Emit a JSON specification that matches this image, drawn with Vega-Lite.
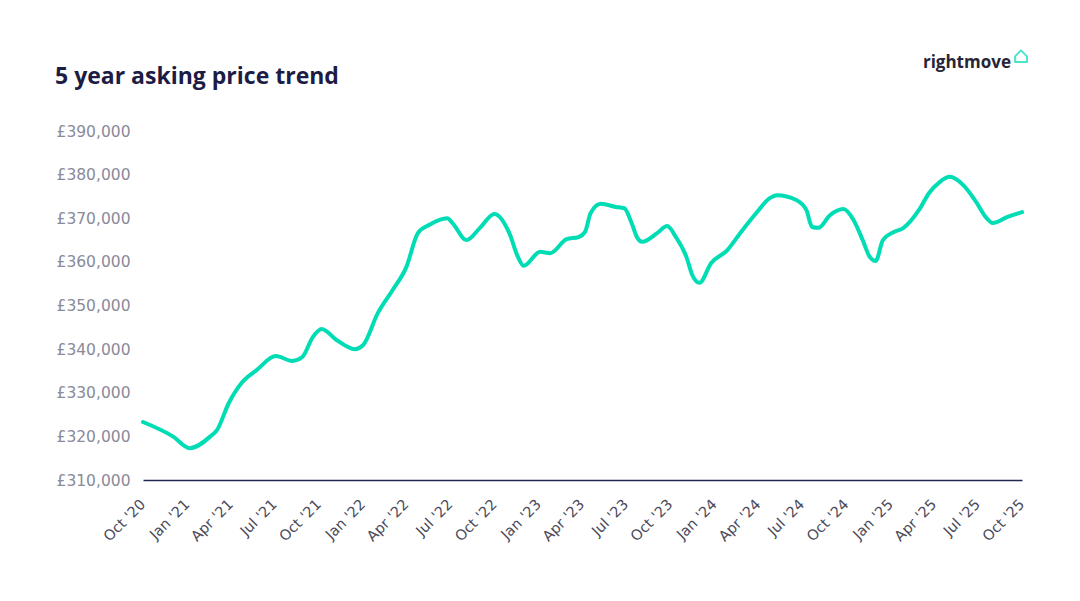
{
  "$schema": "https://vega.github.io/schema/vega-lite/v6.json",
  "autosize": {"type": "none"},
  "width": 879,
  "height": 349,
  "padding": {"left": 143, "top": 131, "right": 58, "bottom": 121},
  "background": "white",
  "title": {
    "text": "5 year asking price trend",
    "anchor": "start",
    "frame": "group",
    "dx": -88,
    "dy": 80,
    "offset": 40,
    "font": "Open Sans",
    "fontSize": 23,
    "fontWeight": "bold",
    "color": "#1c1c45"
  },
  "config": {"view": {"stroke": null}},
  "datasets": {
    "prices": [
      {"date": "2020-10-01", "price": 323300},
      {"date": "2020-12-02", "price": 320000},
      {"date": "2021-01-06", "price": 317300},
      {"date": "2021-02-18", "price": 320000},
      {"date": "2021-03-04", "price": 321500},
      {"date": "2021-03-28", "price": 327600},
      {"date": "2021-04-25", "price": 332400},
      {"date": "2021-05-25", "price": 335200},
      {"date": "2021-07-04", "price": 338400},
      {"date": "2021-08-07", "price": 337300},
      {"date": "2021-08-28", "price": 338200},
      {"date": "2021-09-19", "price": 342800},
      {"date": "2021-10-07", "price": 344600},
      {"date": "2021-11-07", "price": 342100},
      {"date": "2021-12-15", "price": 340000},
      {"date": "2022-01-01", "price": 340900},
      {"date": "2022-02-01", "price": 348300},
      {"date": "2022-03-04", "price": 353600},
      {"date": "2022-04-01", "price": 358800},
      {"date": "2022-04-25", "price": 366600},
      {"date": "2022-05-19", "price": 368500},
      {"date": "2022-06-25", "price": 370000},
      {"date": "2022-07-06", "price": 368900},
      {"date": "2022-08-04", "price": 365000},
      {"date": "2022-09-01", "price": 367800},
      {"date": "2022-10-01", "price": 371000},
      {"date": "2022-11-01", "price": 366600},
      {"date": "2022-11-19", "price": 361100},
      {"date": "2022-12-01", "price": 359100},
      {"date": "2023-01-04", "price": 362300},
      {"date": "2023-01-25", "price": 362000},
      {"date": "2023-02-28", "price": 365200},
      {"date": "2023-03-25", "price": 365700},
      {"date": "2023-04-07", "price": 366800},
      {"date": "2023-04-19", "price": 371200},
      {"date": "2023-05-10", "price": 373300},
      {"date": "2023-06-10", "price": 372600},
      {"date": "2023-06-28", "price": 372300},
      {"date": "2023-07-13", "price": 368900},
      {"date": "2023-07-25", "price": 365500},
      {"date": "2023-08-04", "price": 364600},
      {"date": "2023-09-04", "price": 366600},
      {"date": "2023-09-25", "price": 368200},
      {"date": "2023-10-13", "price": 365700},
      {"date": "2023-11-04", "price": 361100},
      {"date": "2023-11-16", "price": 357000},
      {"date": "2023-12-01", "price": 355200},
      {"date": "2023-12-25", "price": 359700},
      {"date": "2024-01-28", "price": 362700},
      {"date": "2024-02-25", "price": 366800},
      {"date": "2024-03-28", "price": 371200},
      {"date": "2024-04-25", "price": 374600},
      {"date": "2024-05-10", "price": 375300},
      {"date": "2024-06-19", "price": 374200},
      {"date": "2024-07-10", "price": 371900},
      {"date": "2024-07-22", "price": 368000},
      {"date": "2024-08-04", "price": 367800},
      {"date": "2024-08-28", "price": 370700},
      {"date": "2024-09-25", "price": 372100},
      {"date": "2024-10-16", "price": 369600},
      {"date": "2024-11-04", "price": 365000},
      {"date": "2024-11-19", "price": 361100},
      {"date": "2024-12-01", "price": 360200},
      {"date": "2024-12-16", "price": 365000},
      {"date": "2025-01-07", "price": 366800},
      {"date": "2025-01-28", "price": 367800},
      {"date": "2025-03-01", "price": 371900},
      {"date": "2025-03-22", "price": 375800},
      {"date": "2025-04-13", "price": 378300},
      {"date": "2025-05-04", "price": 379500},
      {"date": "2025-06-01", "price": 377600},
      {"date": "2025-06-28", "price": 373700},
      {"date": "2025-07-19", "price": 370100},
      {"date": "2025-08-01", "price": 368900},
      {"date": "2025-09-01", "price": 370300},
      {"date": "2025-10-01", "price": 371400}
    ],
    "logo": [{"label": "rightmove"}]
  },
  "layer": [
    {
      "data": {"name": "prices"},
      "mark": {"type": "line", "interpolate": "monotone", "color": "#00dcb4", "strokeWidth": 4, "strokeCap": "round"},
      "encoding": {
        "x": {
          "field": "date",
          "type": "temporal",
          "scale": {"type": "utc", "domain": [{"year": 2020, "month": 10, "date": 1, "utc": true}, {"year": 2025, "month": 10, "date": 1, "utc": true}]},
          "axis": {
            "title": null,
            "format": "%b '%y",
            "tickCount": {"interval": "month", "step": 3},
            "labelAngle": -45,
            "labelAlign": "right",
            "labelBaseline": "middle",
            "labelPadding": 22,
            "labelFont": "DejaVu Sans",
            "labelFontSize": 14.5,
            "labelColor": "#4a4a5a",
            "labelOverlap": false,
            "labelFlush": false,
            "ticks": false,
            "grid": false,
            "domainColor": "#23264f",
            "domainWidth": 1.5
          }
        },
        "y": {
          "field": "price",
          "type": "quantitative",
          "scale": {"domain": [310000, 390000], "nice": false, "zero": false},
          "axis": {
            "title": null,
            "values": [310000, 320000, 330000, 340000, 350000, 360000, 370000, 380000, 390000],
            "format": ",.0f",
            "labelExpr": "'£' + datum.label",
            "labelFont": "DejaVu Sans",
            "labelFontSize": 15.5,
            "labelColor": "#8a8a99",
            "labelPadding": 13,
            "ticks": false,
            "domain": false,
            "grid": false
          }
        }
      }
    },
    {
      "data": {"name": "logo"},
      "mark": {"type": "text", "align": "right", "baseline": "alphabetic", "font": "Open Sans", "fontSize": 17, "fontWeight": "bold", "color": "#262637", "clip": false},
      "encoding": {
        "x": {"datum": {"year": 2025, "month": 9, "date": 8, "utc": true}, "type": "temporal"},
        "y": {"datum": 404500, "type": "quantitative"},
        "text": {"field": "label"}
      }
    },
    {
      "data": {"name": "logo"},
      "mark": {"type": "point", "shape": "M-0.8,0.05 L0,-0.75 L0.8,0.05 L0.8,0.8 L-0.8,0.8 Z", "filled": false, "stroke": "#00dcb4", "strokeWidth": 2, "strokeJoin": "round", "size": 220, "clip": false},
      "encoding": {
        "x": {"datum": {"year": 2025, "month": 9, "date": 29, "utc": true}, "type": "temporal"},
        "y": {"datum": 407200, "type": "quantitative"}
      }
    }
  ]
}
